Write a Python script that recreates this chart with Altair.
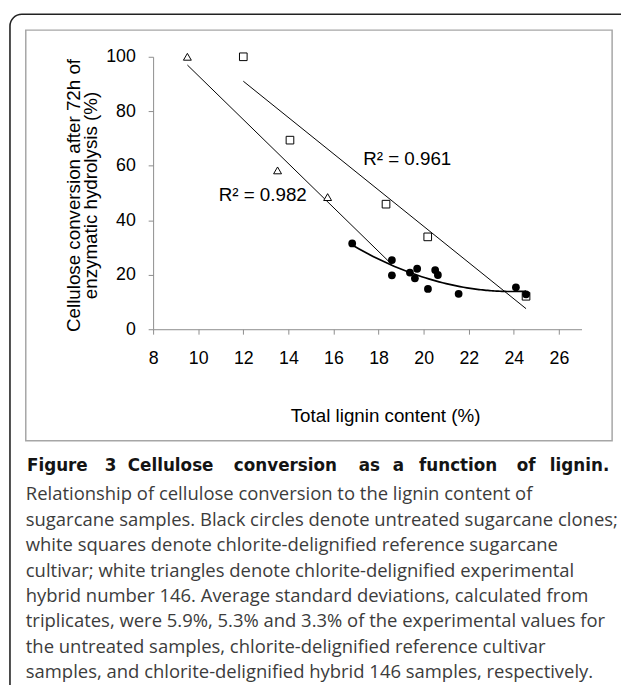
import altair as alt
import pandas as pd

# ---------------- data ----------------
tri_x = [9.52, 13.52, 15.74]          # chlorite-delignified hybrid 146 (white triangles)
tri_y = [100.0, 58.3, 48.5]
sq_x = [12.0, 14.07, 18.33, 20.18, 24.54]   # chlorite-delignified reference cultivar (white squares)
sq_y = [100.0, 69.4, 45.9, 33.9, 12.1]
circ_x = [16.83, 18.59, 18.59, 19.39, 19.61, 19.71, 20.19, 20.51, 20.63, 21.55, 24.09, 24.54]
circ_y = [31.5, 25.4, 19.8, 20.8, 18.7, 22.2, 14.8, 21.7, 19.9, 13.0, 15.4, 12.8]
# untreated hybrid 146 sample (drawn as a circle) is part of the hybrid fit
hyb_untreated_x = [18.59]
hyb_untreated_y = [25.4]

r2_labels = ["R\u00b2 = 0.961", "R\u00b2 = 0.982"]
r2_x = [19.27, 12.86]
r2_y = [62.3, 49.2]

x_ticks = [8, 10, 12, 14, 16, 18, 20, 22, 24, 26]
y_ticks = [0, 20, 40, 60, 80, 100]
x_title = "Total lignin content (%)"
y_title = ["Cellulose conversion after 72h of", "enzymatic hydrolysis (%)"]

caption_head = ["Figure", "3", "Cellulose", "conversion", "as", "a", "function", "of", "lignin."]
caption_body = [
    "Relationship of cellulose conversion to the lignin content of",
    "sugarcane samples. Black circles denote untreated sugarcane clones;",
    "white squares denote chlorite-delignified reference sugarcane",
    "cultivar; white triangles denote chlorite-delignified experimental",
    "hybrid number 146. Average standard deviations, calculated from",
    "triplicates, were 5.9%, 5.3% and 3.3% of the experimental values for",
    "the untreated samples, chlorite-delignified reference cultivar",
    "samples, and chlorite-delignified hybrid 146 samples, respectively.",
]

# ---------------- layout (pixels) ----------------
W, H = 434, 276
PAD = {"left": 147, "top": 45, "right": 40, "bottom": 356}
head_centers = [-97, -43, 17.75, 134, 219, 248.6, 309, 378, 432]   # word centres of the bold line
head_y = 415
body_y0, body_dy = 443.5, 25.7
body_x = -129

FONT = "Liberation Sans"

tri = pd.DataFrame({"x": tri_x, "y": tri_y})
sq = pd.DataFrame({"x": sq_x, "y": sq_y})
circ = pd.DataFrame({"x": circ_x, "y": circ_y})
hyb_fit = pd.DataFrame({"x": tri_x + hyb_untreated_x, "y": tri_y + hyb_untreated_y})
r2 = pd.DataFrame({"x": r2_x, "y": r2_y, "t": r2_labels})
one = pd.DataFrame({"k": [0]})

xs = alt.Scale(domain=[8, 27], nice=False, zero=False)
ys = alt.Scale(domain=[0, 100], nice=False, zero=True)

xaxis = alt.Axis(values=x_ticks, title=x_title, grid=False,
                 domainColor="#8c8c8c", tickColor="#8c8c8c", tickSize=5,
                 labelFont=FONT, labelFontSize=18, labelColor="black", labelPadding=16,
                 labelFlush=False, labelOverlap=False,
                 titleFont=FONT, titleFontSize=19, titleFontWeight="normal", titleColor="black",
                 titleX=235, titleY=93, titleBaseline="alphabetic", titleAlign="center")
yaxis = alt.Axis(values=y_ticks, title=y_title, grid=False,
                 domainColor="#8c8c8c", tickColor="#8c8c8c", tickSize=5,
                 labelFont=FONT, labelFontSize=18, labelColor="black", labelPadding=13,
                 labelFlush=False, labelOverlap=False,
                 titleFont=FONT, titleFontSize=19, titleFontWeight="normal", titleColor="black",
                 titleAngle=270, titleX=-81, titleY=140, titleBaseline="middle",
                 titleAlign="center", titleLineHeight=18)

X = alt.X("x:Q", scale=xs, axis=xaxis)
Y = alt.Y("y:Q", scale=ys, axis=yaxis)

layers = []

# frames
layers.append(alt.Chart(one).mark_rect(fillOpacity=0, stroke="#a6a6a6", strokeWidth=1.5).encode(
    x=alt.value(-129), x2=alt.value(465), y=alt.value(-27), y2=alt.value(389)))
layers.append(alt.Chart(one).mark_rect(fillOpacity=0, stroke="#222222", strokeWidth=1.6, cornerRadius=12).encode(
    x=alt.value(-145), x2=alt.value(520), y=alt.value(-43), y2=alt.value(700)))

# trend lines
layers.append(alt.Chart(sq).mark_line(color="black", strokeWidth=1).encode(x=X, y=Y)
              .transform_regression("x", "y", method="linear"))
layers.append(alt.Chart(hyb_fit).mark_line(color="black", strokeWidth=1).encode(x=X, y=Y)
              .transform_regression("x", "y", method="linear"))

# markers
layers.append(alt.Chart(sq).mark_point(shape="square", filled=True, fill="white", stroke="black",
                                       strokeWidth=1, size=60, opacity=1).encode(x=X, y=Y))
layers.append(alt.Chart(tri).mark_point(shape="triangle-up", filled=True, fill="white", stroke="black",
                                        strokeWidth=1, size=64, opacity=1).encode(x=X, y=Y))
layers.append(alt.Chart(circ).mark_point(shape="circle", filled=True, color="black",
                                         size=62, opacity=1).encode(x=X, y=Y))
layers.append(alt.Chart(circ).mark_line(color="black", strokeWidth=1.7).encode(x=X, y=Y)
              .transform_regression("x", "y", method="poly", order=2))

# R² labels
layers.append(alt.Chart(r2).mark_text(font=FONT, fontSize=19, color="black", align="center",
                                      baseline="middle").encode(x=X, y=Y, text="t:N"))

# caption
for w, cx in zip(caption_head, head_centers):
    layers.append(alt.Chart(one).mark_text(font="DejaVu Sans", fontWeight="bold", fontSize=17,
                                           color="#141414", align="center", baseline="middle").encode(
        x=alt.value(cx), y=alt.value(head_y), text=alt.value(w)))
for i, line in enumerate(caption_body):
    layers.append(alt.Chart(one).mark_text(font="Open Sans", fontSize=18.7, color="#3c3c3c",
                                           align="left", baseline="middle").encode(
        x=alt.value(body_x), y=alt.value(body_y0 + i * body_dy), text=alt.value(line)))

chart = alt.layer(*layers).properties(
    width=W, height=H, padding=PAD,
    autosize=alt.AutoSizeParams(type="none"),
    background="white",
).configure_view(strokeWidth=0)

chart.save("out.html", embed_options={"renderer": "svg", "actions": False})
